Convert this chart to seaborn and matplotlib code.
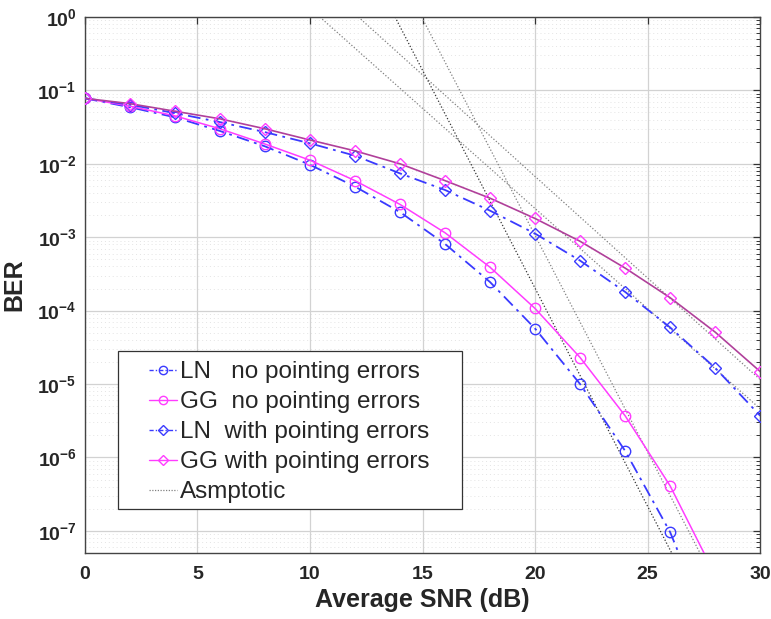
import matplotlib
matplotlib.use('Agg')
import matplotlib.pyplot as plt
import seaborn as sns
from matplotlib.ticker import LogLocator, MultipleLocator, NullFormatter
from matplotlib.lines import Line2D
from matplotlib.patches import Rectangle

# ---------------- data ----------------
snr_db = [0, 2, 4, 6, 8, 10, 12, 14, 16, 18, 20, 22, 24, 26, 28, 30]

ber_ln_no_pe = [0.078, 0.059, 0.043, 0.028, 0.0173, 0.0097, 0.0049, 0.0022,
                8.1e-4, 2.45e-4, 5.7e-5, 1.0e-5, 1.23e-6, 9.6e-8, 3e-9, 5e-11]
ber_gg_no_pe = [0.078, 0.061, 0.045, 0.030, 0.0186, 0.0112, 0.0059, 0.0028,
                1.15e-3, 3.9e-4, 1.07e-4, 2.3e-5, 3.7e-6, 4.1e-7, 2.5e-8, 8e-10]
ber_ln_pe = [0.078, 0.064, 0.049, 0.037, 0.027, 0.019, 0.0129, 0.0074,
             0.0044, 0.0023, 1.12e-3, 4.8e-4, 1.8e-4, 5.9e-5, 1.66e-5, 3.7e-6]
ber_gg_pe = [0.078, 0.066, 0.052, 0.041, 0.030, 0.0211, 0.015, 0.010,
             0.0059, 0.0034, 0.0018, 8.8e-4, 3.8e-4, 1.5e-4, 5.1e-5, 1.48e-5]

# asymptotic lines (start / end points)
asym_snr = [[10.44, 30], [12.15, 30], [13.78, 27], [14.96, 28]]
asym_ber = [[1, 4.6e-6], [1, 1.15e-5], [1, 1.4e-8], [1, 2e-8]]

labels = ['LN   no pointing errors', 'GG  no pointing errors',
          'LN  with pointing errors', 'GG with pointing errors', 'Asmptotic']

# ---------------- style ----------------
sns.set_theme(style='white')
plt.rcParams['font.family'] = ['Liberation Sans', 'DejaVu Sans']
plt.rcParams['font.weight'] = 'bold'
plt.rcParams['mathtext.fontset'] = 'custom'
plt.rcParams['mathtext.rm'] = 'Liberation Sans:bold'
plt.rcParams['mathtext.bf'] = 'Liberation Sans:bold'

blue = '#3a3aff'
mag = '#ff3cff'

fig = plt.figure(figsize=(7.71, 6.19), dpi=100)
ax = fig.add_axes([0.110, 0.1066, 0.876, 0.866])

# asymptotes first
shades = ['0.5', '0.5', '0.2', '0.5']
for xs, ys, c in zip(asym_snr, asym_ber, shades):
    sns.lineplot(x=xs, y=ys, ax=ax, color=c, lw=0.9, linestyle=(0, (1, 1.6)), zorder=2)

dashdot = (0, (7, 3, 1.5, 3))
sns.lineplot(x=snr_db, y=ber_ln_no_pe, ax=ax, color=blue, lw=1.3, linestyle=dashdot,
             marker='o', ms=7.5, mfc='none', mec=blue, mew=1.0, zorder=3)
sns.lineplot(x=snr_db, y=ber_gg_no_pe, ax=ax, color=mag, lw=1.1, linestyle='-',
             marker='o', ms=7.5, mfc='none', mec=mag, mew=1.0, zorder=3)
sns.lineplot(x=snr_db, y=ber_ln_pe, ax=ax, color=blue, lw=1.3, linestyle=dashdot,
             marker='D', ms=6.5, mfc='none', mec=blue, mew=1.0, zorder=3)
sns.lineplot(x=snr_db, y=ber_gg_pe, ax=ax, color='#b0409a', lw=1.2, linestyle='-',
             marker='D', ms=6.5, mfc='none', mec=mag, mew=1.0, zorder=3)

ax.set_yscale('log')
ax.set_xlim(0, 30)
ax.set_ylim(5e-8, 1)

ax.xaxis.set_major_locator(MultipleLocator(5))
ax.yaxis.set_major_locator(LogLocator(base=10, numticks=20))
ax.yaxis.set_minor_locator(LogLocator(base=10, subs=range(2, 10), numticks=20))
ax.yaxis.set_minor_formatter(NullFormatter())

ax.grid(True, which='major', color='#d2d2d2', lw=0.9, ls='-')
ax.grid(True, which='minor', axis='y', color='#e4e4e4', lw=0.7, ls=(0, (1, 3)))
ax.set_axisbelow(True)

ax.tick_params(axis='both', which='both', direction='in', top=True, right=True,
               color='#333333')
ax.tick_params(axis='both', which='major', length=5, width=0.9, labelsize=14)
ax.tick_params(axis='y', which='minor', length=3, width=0.7)
ax.tick_params(axis='x', pad=9)
ax.tick_params(axis='y', pad=6)
for s in ax.spines.values():
    s.set_color('#444444')
    s.set_linewidth(1.0)

ax.set_xlabel('Average SNR (dB)', fontsize=18, fontweight='bold', labelpad=4)
ax.set_ylabel('BER', fontsize=18, fontweight='bold', labelpad=8)

handles = [
    Line2D([], [], color=blue, lw=1.0, linestyle=(0, (3, 1.5, 1, 1.5)), marker='o', ms=6,
           mfc='none', mec=blue),
    Line2D([], [], color=mag, lw=1.0, marker='o', ms=6, mfc='none', mec=mag),
    Line2D([], [], color=blue, lw=1.0, linestyle=(0, (3, 1.5, 1, 1.5)), marker='D', ms=5,
           mfc='none', mec=blue),
    Line2D([], [], color=mag, lw=1.0, marker='D', ms=5, mfc='none', mec=mag),
    Line2D([], [], color='0.5', lw=0.9, linestyle=(0, (1, 1.2))),
]

# legend box drawn separately (MATLAB style wide padding)
ax.add_patch(Rectangle((0.049, 0.082), 0.5095, 0.295, transform=ax.transAxes,
                       facecolor='white', edgecolor='#333333', lw=0.9, zorder=4))
leg = ax.legend(handles, labels, loc='upper left', bbox_to_anchor=(0.0948, 0.358),
                prop={'family': 'Liberation Sans', 'weight': 'normal', 'size': 17.5},
                frameon=False, handlelength=1.15, handletextpad=0.12,
                labelspacing=0.33, borderpad=0, borderaxespad=0)
leg.set_zorder(5)

fig.savefig('out.png', dpi=100)
